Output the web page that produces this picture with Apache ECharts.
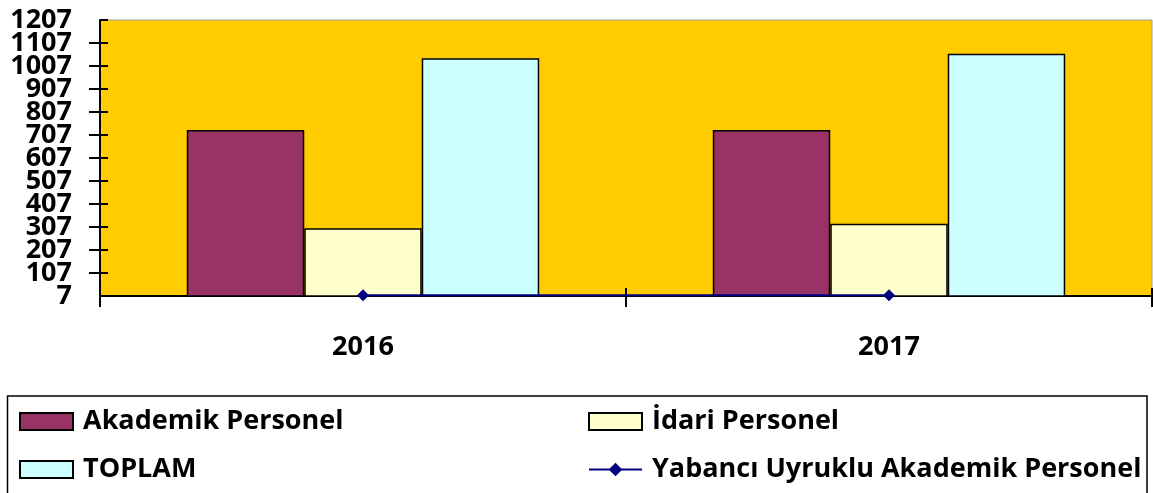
<!DOCTYPE html>
<html>
<head>
<meta charset="utf-8">
<script src="https://cdn.jsdelivr.net/npm/echarts@6/dist/echarts.min.js"></script>
<style>
  html, body { margin: 0; padding: 0; background: #fff; }
  #chart { width: 1153px; height: 493px; }
</style>
</head>
<body>
<div id="chart"></div>
<script>
const years = ['2016', '2017']
const akademik = [729, 729]
const idari = [302, 321]
const toplam = [1041, 1060]
const yabanci = [10, 10]
const yMin = 7
const yMax = 1207
const yStep = 100

const font = '"Open Sans", sans-serif'
const labelStyle = { color: '#000', fontWeight: 'bold', fontSize: 27, fontFamily: font }

const myChart = echarts.init(document.getElementById('chart'))

function legendAt(name, left, top, extra) {
  return Object.assign({
    data: [{ name: name, icon: 'rect' }],
    left: left,
    top: top,
    padding: 0,
    itemWidth: 53,
    itemHeight: 17,
    textStyle: Object.assign({ padding: [4, 0, 0, 5] }, labelStyle)
  }, extra || {})
}

// the inner-range labels go on the first y axis, the end labels (7 and 1207)
// on the second one, so echarts doesn't drop the crowded neighbours
const option = {
  animation: false,
  grid: {
    left: 100,
    right: 1,
    top: 20,
    bottom: 197,
    show: true,
    backgroundColor: '#FFCC00',
    borderColor: '#a0a0a0',
    borderWidth: 1
  },
  legend: [
    legendAt('Akademik Personel', 19, 408),
    legendAt('İdari Personel', 588, 408),
    legendAt('TOPLAM', 19, 456),
    legendAt('Yabancı Uyruklu Akademik Personel', 588, 456, {
      data: ['Yabancı Uyruklu Akademik Personel']
    })
  ],
  graphic: [{
    type: 'rect',
    shape: { x: 7.5, y: 396, width: 1139.5, height: 110 },
    style: { fill: 'none', stroke: '#000', lineWidth: 1.5 },
    silent: true
  }],
  xAxis: [{
    type: 'category',
    data: years,
    axisLine: { lineStyle: { color: '#000', width: 2 } },
    axisTick: { show: true, length: 11, lineStyle: { color: '#000', width: 2 } },
    axisLabel: Object.assign({ margin: 38 }, labelStyle),
    splitLine: { show: false }
  }, {
    type: 'category',
    data: years,
    position: 'bottom',
    axisLine: { show: false },
    axisTick: { show: true, inside: true, length: 8, lineStyle: { color: '#000', width: 2 } },
    axisLabel: { show: false },
    splitLine: { show: false }
  }],
  yAxis: [{
    type: 'value',
    min: yMin,
    max: yMax,
    interval: yStep,
    axisLine: { show: true, lineStyle: { color: '#000', width: 2 } },
    axisTick: { show: true, length: 11, lineStyle: { color: '#000', width: 2 } },
    axisLabel: Object.assign({
      margin: 28,
      showMinLabel: false,
      showMaxLabel: false,
      formatter: v => String(v)
    }, labelStyle),
    splitLine: { show: false }
  }, {
    type: 'value',
    min: yMin,
    max: yMax,
    interval: yStep,
    position: 'left',
    axisLine: { show: false },
    axisTick: { show: true, inside: true, length: 8, lineStyle: { color: '#000', width: 2 } },
    axisLabel: Object.assign({
      margin: 28,
      showMinLabel: true,
      showMaxLabel: true,
      formatter: v => (v === yMin || v === yMax) ? String(v) : ''
    }, labelStyle),
    splitLine: { show: false }
  }],
  series: [{
    name: 'Akademik Personel',
    type: 'bar',
    data: akademik,
    barGap: '0%',
    barCategoryGap: '33%',
    itemStyle: { color: '#993366', borderColor: '#000', borderWidth: 1.5 }
  }, {
    name: 'İdari Personel',
    type: 'bar',
    data: idari,
    itemStyle: { color: '#FFFFCC', borderColor: '#000', borderWidth: 1.5 }
  }, {
    name: 'TOPLAM',
    type: 'bar',
    data: toplam,
    itemStyle: { color: '#CCFFFF', borderColor: '#000', borderWidth: 1.5 }
  }, {
    name: 'Yabancı Uyruklu Akademik Personel',
    type: 'line',
    data: yabanci,
    symbol: 'diamond',
    symbolSize: 12,
    z: 5,
    lineStyle: { color: '#000080', width: 2 },
    itemStyle: { color: '#000080' }
  }]
}
myChart.setOption(option)
</script>
</body>
</html>
